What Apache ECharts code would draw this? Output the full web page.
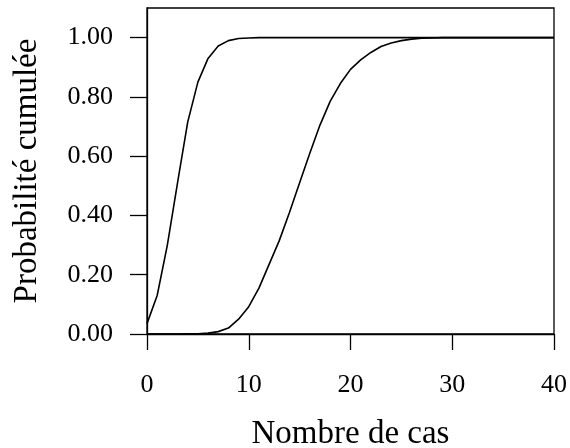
<!DOCTYPE html>
<html>
<head>
<meta charset="utf-8">
<script src="https://cdn.jsdelivr.net/npm/echarts@6/dist/echarts.min.js"></script>
<style>
html,body{margin:0;padding:0;background:#fff;}
#chart{width:570px;height:448px;}
</style>
</head>
<body>
<div id="chart"></div>
<script>
// Number of cases (x)
const cases = [0,1,2,3,4,5,6,7,8,9,10,11,12,13,14,15,16,17,18,19,20,21,22,23,24,25,26,27,28,29,30,31,32,33,34,35,36,37,38,39,40];
// Cumulative probability, left curve (small mean)
const cumLow = [0.035,0.13,0.30,0.51,0.715,0.85,0.93,0.972,0.99,0.997,0.999,1,1,1,1,1,1,1,1,1,1,1,1,1,1,1,1,1,1,1,1,1,1,1,1,1,1,1,1,1,1];
// Cumulative probability, right curve (larger mean)
const cumHigh = [0,0,0,0,0.0005,0.001,0.003,0.008,0.02,0.05,0.092,0.155,0.235,0.315,0.41,0.51,0.61,0.705,0.785,0.845,0.893,0.925,0.95,0.97,0.982,0.99,0.995,0.998,0.999,1,1,1,1,1,1,1,1,1,1,1,1];
const yTicks = [0,0.2,0.4,0.6,0.8,1.0];
const xTicks = [0,10,20,30,40];

const pair = ys => cases.map((x,i)=>[x, ys[i]]);
const font = 'Liberation Serif';

const chart = echarts.init(document.getElementById('chart'), null, {renderer:'canvas'});
chart.setOption({
  animation:false,
  backgroundColor:'#fff',
  grid:{left:147,right:16,top:8,bottom:114,containLabel:false,outerBoundsMode:'none',show:true,borderColor:'#000',borderWidth:1.3,backgroundColor:'transparent'},
  xAxis:{
    type:'value',min:0,max:40,interval:10,
    name:'Nombre de cas',nameLocation:'middle',nameGap:84,
    nameTextStyle:{fontFamily:font,fontSize:33,color:'#000'},
    axisLine:{show:true,lineStyle:{color:'#000',width:1.3}},
    axisTick:{show:true,inside:false,length:16,lineStyle:{color:'#000',width:1.3},customValues:xTicks},
    axisLabel:{fontFamily:font,fontSize:26,color:'#000',margin:38,customValues:xTicks},
    splitLine:{show:false}
  },
  yAxis:{
    type:'value',min:0,max:1.1,interval:0.2,
    name:'Probabilité cumulée',nameLocation:'middle',nameGap:103,nameRotate:90,
    nameTextStyle:{fontFamily:font,fontSize:33,color:'#000'},
    axisLine:{show:true,lineStyle:{color:'#000',width:1.3}},
    axisTick:{show:true,inside:false,length:17,lineStyle:{color:'#000',width:1.3},customValues:yTicks},
    axisLabel:{fontFamily:font,fontSize:26,color:'#000',margin:34,customValues:yTicks,formatter:v=>v.toFixed(2)},
    splitLine:{show:false}
  },
  series:[
    {type:'line',data:pair(cumLow),showSymbol:false,smooth:false,lineStyle:{color:'#000',width:1.6},clip:true},
    {type:'line',data:pair(cumHigh),showSymbol:false,smooth:false,lineStyle:{color:'#000',width:1.6},clip:true}
  ]
});
</script>
</body>
</html>
